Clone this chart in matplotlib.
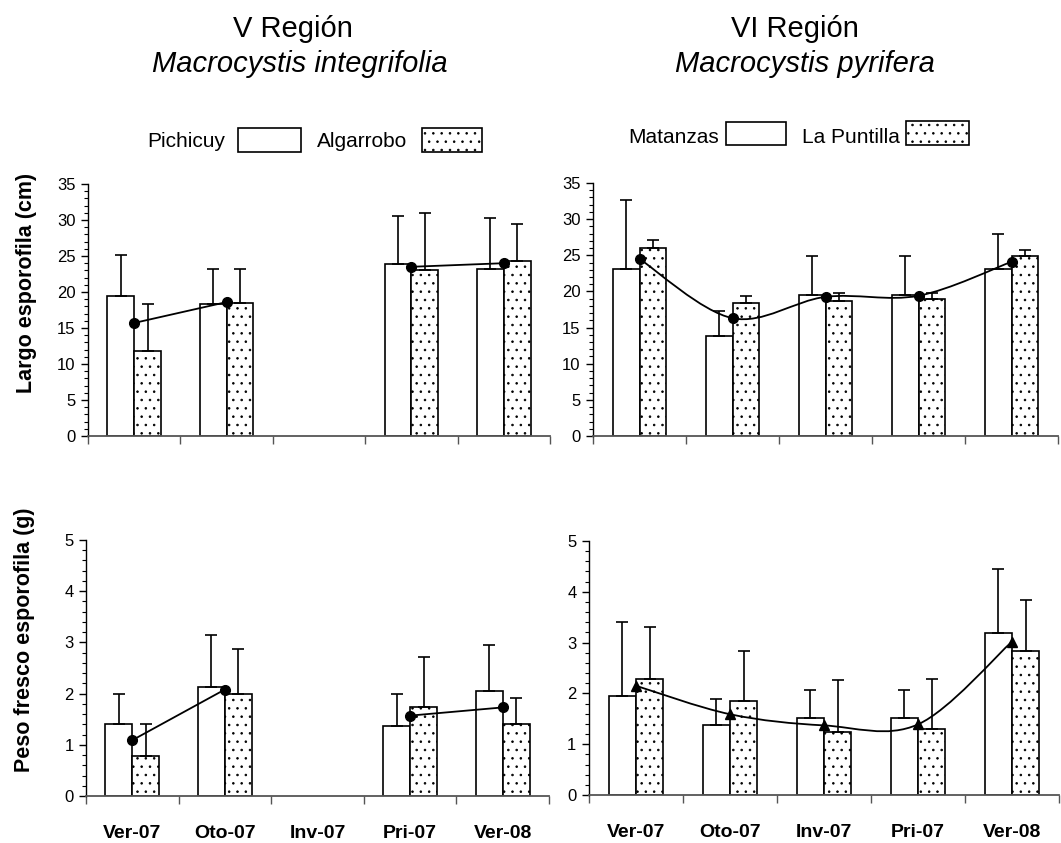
import numpy as np
import matplotlib
matplotlib.use("Agg")
import matplotlib.pyplot as plt
from matplotlib.patches import Rectangle, PathPatch
from matplotlib.path import Path
from matplotlib.ticker import MultipleLocator

plt.rcParams['font.family'] = ['Liberation Sans', 'DejaVu Sans']
plt.rcParams['hatch.linewidth'] = 0.6

seasons = ['Ver-07', 'Oto-07', 'Inv-07', 'Pri-07', 'Ver-08']

# V Region - Macrocystis integrifolia (nan = no sample)
largo_pichicuy = [19.4, 18.3, np.nan, 23.9, 23.2]
largo_pichicuy_sd = [5.8, 4.9, np.nan, 6.7, 7.1]
largo_algarrobo = [11.85, 18.5, np.nan, 23.0, 24.35]
largo_algarrobo_sd = [6.45, 4.7, np.nan, 8.0, 5.15]
largo_v_mean = [15.7, 18.6, np.nan, 23.5, 24.0]

peso_pichicuy = [1.40, 2.12, np.nan, 1.37, 2.06]
peso_pichicuy_sd = [0.59, 1.02, np.nan, 0.62, 0.88]
peso_algarrobo = [0.78, 2.0, np.nan, 1.74, 1.40]
peso_algarrobo_sd = [0.62, 0.87, np.nan, 0.98, 0.51]
peso_v_mean = [1.09, 2.08, np.nan, 1.57, 1.73]

# VI Region - Macrocystis pyrifera
largo_matanzas = [23.1, 13.8, 19.5, 19.5, 23.1]
largo_matanzas_sd = [9.55, 3.5, 5.4, 5.4, 4.9]
largo_puntilla = [26.0, 18.4, 18.65, 18.9, 24.9]
largo_puntilla_sd = [1.1, 0.9, 1.1, 0.9, 0.85]
largo_vi_mean = [24.5, 16.3, 19.25, 19.4, 24.1]

peso_matanzas = [1.95, 1.38, 1.51, 1.51, 3.18]
peso_matanzas_sd = [1.45, 0.50, 0.56, 0.56, 1.26]
peso_puntilla = [2.29, 1.86, 1.25, 1.29, 2.83]
peso_puntilla_sd = [1.01, 0.97, 1.01, 1.00, 1.01]
peso_vi_mean = [2.15, 1.59, 1.37, 1.39, 3.02]

W, H = 1061, 843
fig = plt.figure(figsize=(W / 100, H / 100), dpi=100)


def box(x0, y0, x1, y1):
    # pixel box (top-left origin) -> figure fraction
    return [x0 / W, 1 - y1 / H, (x1 - x0) / W, (y1 - y0) / H]


def smooth_path(x, y):
    # Excel-style smoothed line: cubic bezier through the points
    x = np.asarray(x, float)
    y = np.asarray(y, float)
    n = len(x)
    verts = [(x[0], y[0])]
    codes = [Path.MOVETO]
    for i in range(n - 1):
        i0 = max(i - 1, 0)
        i3 = min(i + 2, n - 1)
        c1 = (x[i] + (x[i + 1] - x[i0]) / 6, y[i] + (y[i + 1] - y[i0]) / 6)
        c2 = (x[i + 1] - (x[i3] - x[i]) / 6, y[i + 1] - (y[i3] - y[i]) / 6)
        verts += [c1, c2, (x[i + 1], y[i + 1])]
        codes += [Path.CURVE4] * 3
    return Path(verts, codes)


def panel(rect, s1, e1, s2, e2, mean, ymax, minor, labels, smooth=False, marker='o'):
    ax = fig.add_axes(rect)
    x = np.arange(len(seasons))
    bw = 0.29
    ax.bar(x - bw / 2, s1, bw, color='white', edgecolor='black', linewidth=1.2, zorder=2)
    ax.bar(x + bw / 2, s2, bw, color='white', edgecolor='black', hatch='..', linewidth=1.2, zorder=2)
    zero = np.zeros(len(x))
    ax.errorbar(x - bw / 2, s1, yerr=[zero, e1], fmt='none', ecolor='black',
                elinewidth=1.2, capsize=4.5, capthick=1.2, zorder=3)
    ax.errorbar(x + bw / 2, s2, yerr=[zero, e2], fmt='none', ecolor='black',
                elinewidth=1.2, capsize=4.5, capthick=1.2, zorder=3)
    if smooth:
        ax.add_patch(PathPatch(smooth_path(x, mean), fill=False, lw=1.3,
                               edgecolor='black', zorder=4))
        ax.plot(x, mean, linestyle='none', marker=marker, color='black',
                markersize=7, zorder=5)
    else:
        ax.plot(x, mean, '-', marker=marker, color='black', lw=1.3,
                markersize=7, zorder=5)
    ax.set_xlim(-0.5, len(x) - 0.5)
    ax.set_ylim(0, ymax)
    for s in ['top', 'right']:
        ax.spines[s].set_visible(False)
    ax.spines['left'].set_linewidth(1.0)
    ax.spines['bottom'].set_linewidth(1.3)
    ax.spines['bottom'].set_color('#555555')
    ax.yaxis.set_major_locator(MultipleLocator(ymax / 7 if ymax > 10 else 1))
    ax.yaxis.set_minor_locator(MultipleLocator(minor))
    ax.tick_params(axis='y', which='major', length=5, width=1, labelsize=12, pad=4)
    ax.tick_params(axis='y', which='minor', length=3, width=0.8)
    ax.set_xticks(np.arange(len(x) + 1) - 0.5)
    ax.set_xticklabels([])
    ax.tick_params(axis='x', which='major', length=6, width=1, color='#555555')
    ax.set_xticks(x, minor=True)
    if labels:
        ax.set_xticklabels(seasons, minor=True, fontsize=14, fontweight='bold')
    ax.tick_params(axis='x', which='minor', length=0, pad=21)
    return ax


panel(box(88, 184, 550, 436), largo_pichicuy, largo_pichicuy_sd,
      largo_algarrobo, largo_algarrobo_sd, largo_v_mean, 35, 1, False)
panel(box(593, 183, 1058, 436), largo_matanzas, largo_matanzas_sd,
      largo_puntilla, largo_puntilla_sd, largo_vi_mean, 35, 1, False, smooth=True)
panel(box(86, 540, 549, 796), peso_pichicuy, peso_pichicuy_sd,
      peso_algarrobo, peso_algarrobo_sd, peso_v_mean, 5, 0.2, True)
panel(box(589, 541, 1059, 795), peso_matanzas, peso_matanzas_sd,
      peso_puntilla, peso_puntilla_sd, peso_vi_mean, 5, 0.2, True,
      smooth=True, marker='^')


def ftext(px, py, s, **kw):
    fig.text(px / W, 1 - py / H, s, **kw)


ftext(293, 37, 'V Región', fontsize=21, ha='center', va='baseline')
ftext(300, 72, 'Macrocystis integrifolia', fontsize=21, style='italic', ha='center', va='baseline')
ftext(795, 37, 'VI Región', fontsize=21, ha='center', va='baseline')
ftext(805, 72, 'Macrocystis pyrifera', fontsize=21, style='italic', ha='center', va='baseline')

ftext(27, 283, 'Largo esporofila (cm)', fontsize=15.5, fontweight='bold',
      rotation=90, ha='center', va='center')
ftext(25, 640, 'Peso fresco esporofila (g)', fontsize=15.5, fontweight='bold',
      rotation=90, ha='center', va='center')

# legends drawn as text + boxes
def legend_box(x0, y0, x1, y1, hatch=None):
    r = Rectangle((x0 / W, 1 - y1 / H), (x1 - x0) / W, (y1 - y0) / H,
                  transform=fig.transFigure, facecolor='white', edgecolor='black',
                  linewidth=1.2, hatch=hatch)
    fig.patches.append(r)


ftext(147, 147, 'Pichicuy', fontsize=15, ha='left', va='baseline')
legend_box(238, 128, 301, 152)
ftext(317, 147, 'Algarrobo', fontsize=15, ha='left', va='baseline')
legend_box(422, 128, 482, 152, hatch='..')

ftext(628, 143, 'Matanzas', fontsize=15, ha='left', va='baseline')
legend_box(726, 122, 786, 145)
ftext(802, 143, 'La Puntilla', fontsize=15, ha='left', va='baseline')
legend_box(906, 121, 969, 145, hatch='..')

fig.savefig('out.png', dpi=100)
